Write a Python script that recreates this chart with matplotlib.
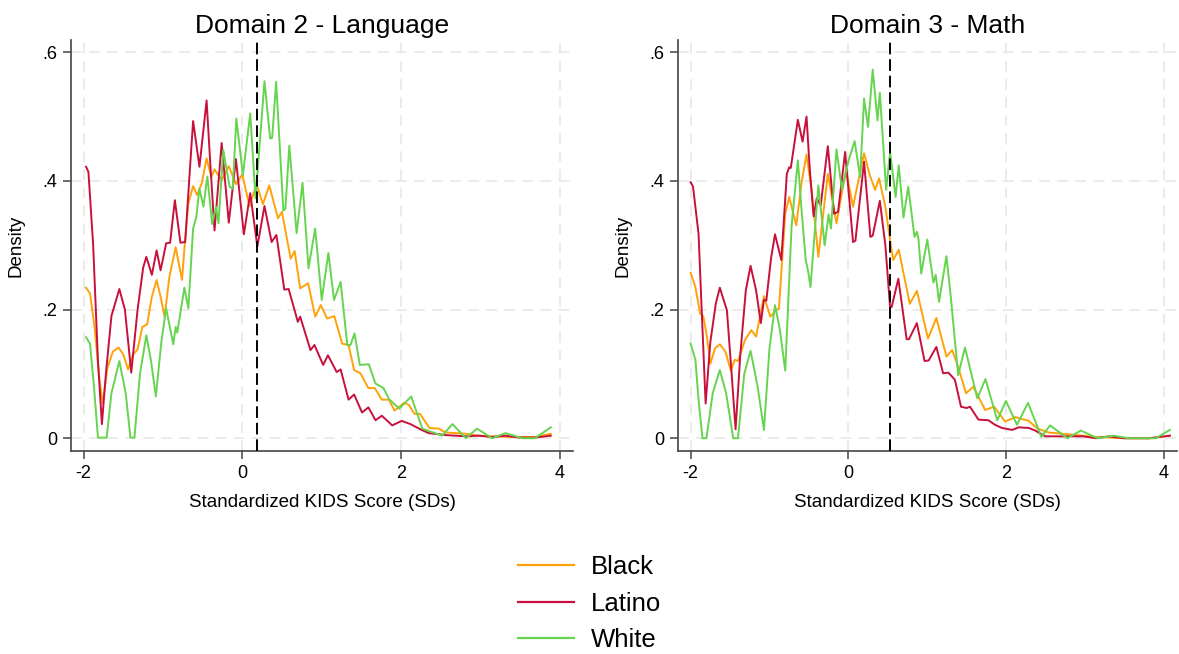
import matplotlib
matplotlib.use("Agg")
import matplotlib.pyplot as plt
from matplotlib.lines import Line2D
import numpy as np

plt.rcParams['font.family'] = ['Liberation Sans', 'DejaVu Sans']
plt.rcParams['axes.unicode_minus'] = False

groups = ['Black', 'Latino', 'White']
colors = {'Black': '#FFA20A', 'Latino': '#C8103C', 'White': '#66D44F'}

titles = ['Domain 2 - Language', 'Domain 3 - Math']
cutoffs = [0.19, 0.53]

# Domain 2 - Language, (score, density)
lang_black = [(-1.97, 0.234), (-1.92, 0.225), (-1.86, 0.17), (-1.80, 0.09), (-1.76, 0.054), (-1.70, 0.11),
              (-1.63, 0.135), (-1.56, 0.141), (-1.50, 0.13), (-1.44, 0.107), (-1.38, 0.13), (-1.32, 0.138),
              (-1.26, 0.173), (-1.20, 0.177), (-1.14, 0.22), (-1.08, 0.246), (-1.03, 0.22), (-0.98, 0.189),
              (-0.92, 0.25), (-0.84, 0.297), (-0.76, 0.246), (-0.72, 0.31), (-0.68, 0.365), (-0.62, 0.392),
              (-0.57, 0.378), (-0.51, 0.397), (-0.45, 0.435), (-0.39, 0.406), (-0.35, 0.418), (-0.26, 0.401),
              (-0.17, 0.423), (-0.08, 0.395), (0.00, 0.410), (0.09, 0.361), (0.18, 0.395), (0.26, 0.364),
              (0.34, 0.393), (0.45, 0.342), (0.50, 0.352), (0.61, 0.279), (0.66, 0.291), (0.73, 0.233),
              (0.83, 0.241), (0.92, 0.189), (0.99, 0.207), (1.07, 0.186), (1.16, 0.190), (1.26, 0.147),
              (1.34, 0.145), (1.41, 0.106), (1.49, 0.101), (1.59, 0.078), (1.67, 0.078), (1.76, 0.060),
              (1.85, 0.060), (1.92, 0.043), (2.04, 0.055), (2.10, 0.052), (2.17, 0.038), (2.24, 0.038),
              (2.36, 0.016), (2.48, 0.015), (2.56, 0.009), (2.82, 0.007), (2.98, 0.004), (3.15, 0.003),
              (3.40, 0.002), (3.69, 0.002), (3.89, 0.007)]
lang_latino = [(-1.97, 0.422), (-1.94, 0.414), (-1.88, 0.30), (-1.82, 0.12), (-1.77, 0.022), (-1.72, 0.10),
               (-1.65, 0.19), (-1.55, 0.232), (-1.48, 0.20), (-1.40, 0.102), (-1.32, 0.20), (-1.25, 0.265),
               (-1.21, 0.282), (-1.14, 0.254), (-1.08, 0.292), (-1.03, 0.261), (-0.96, 0.303), (-0.91, 0.304),
               (-0.85, 0.370), (-0.78, 0.304), (-0.72, 0.305), (-0.67, 0.40), (-0.62, 0.493), (-0.54, 0.422),
               (-0.45, 0.525), (-0.40, 0.42), (-0.35, 0.323), (-0.26, 0.459), (-0.17, 0.335), (-0.08, 0.434),
               (0.02, 0.317), (0.10, 0.381), (0.19, 0.298), (0.28, 0.361), (0.37, 0.305), (0.43, 0.316),
               (0.53, 0.231), (0.585, 0.232), (0.70, 0.181), (0.73, 0.189), (0.86, 0.137), (0.91, 0.145),
               (1.02, 0.114), (1.08, 0.129), (1.19, 0.103), (1.24, 0.107), (1.34, 0.060), (1.41, 0.068),
               (1.51, 0.040), (1.59, 0.048), (1.68, 0.028), (1.76, 0.035), (1.89, 0.020), (2.01, 0.027),
               (2.12, 0.022), (2.26, 0.013), (2.35, 0.008), (2.56, 0.005), (2.82, 0.003), (2.98, 0.004),
               (3.15, 0.002), (3.32, 0.004), (3.49, 0.001), (3.69, 0.001), (3.89, 0.004)]
lang_white = [(-1.97, 0.157), (-1.92, 0.147), (-1.87, 0.08), (-1.82, 0.001), (-1.71, 0.001), (-1.65, 0.07),
              (-1.55, 0.120), (-1.47, 0.07), (-1.41, 0.001), (-1.36, 0.001), (-1.29, 0.10), (-1.21, 0.160),
              (-1.15, 0.12), (-1.09, 0.065), (-1.02, 0.15), (-0.96, 0.202), (-0.87, 0.146), (-0.84, 0.173),
              (-0.82, 0.164), (-0.73, 0.234), (-0.68, 0.202), (-0.62, 0.326), (-0.58, 0.344), (-0.54, 0.388),
              (-0.49, 0.360), (-0.44, 0.407), (-0.38, 0.333), (-0.33, 0.360), (-0.30, 0.334), (-0.24, 0.448),
              (-0.16, 0.391), (-0.12, 0.388), (-0.075, 0.497), (0.008, 0.409), (0.10, 0.505), (0.167, 0.373),
              (0.28, 0.555), (0.351, 0.466), (0.377, 0.467), (0.427, 0.554), (0.518, 0.354), (0.544, 0.357),
              (0.593, 0.455), (0.685, 0.319), (0.760, 0.397), (0.835, 0.264), (0.919, 0.326), (1.002, 0.215),
              (1.086, 0.288), (1.157, 0.215), (1.240, 0.243), (1.324, 0.145), (1.365, 0.145), (1.415, 0.163),
              (1.482, 0.114), (1.595, 0.115), (1.68, 0.085), (1.78, 0.078), (1.85, 0.061), (1.98, 0.046),
              (2.13, 0.065), (2.27, 0.015), (2.52, 0.004), (2.65, 0.022), (2.82, 0.0), (2.96, 0.015),
              (3.15, 0.0), (3.32, 0.008), (3.53, 0.0), (3.69, 0.0), (3.89, 0.017)]

# Domain 3 - Math
math_black = [(-2.00, 0.257), (-1.94, 0.235), (-1.88, 0.194), (-1.84, 0.19), (-1.80, 0.163), (-1.75, 0.116),
              (-1.69, 0.14), (-1.63, 0.146), (-1.56, 0.135), (-1.49, 0.105), (-1.44, 0.122), (-1.40, 0.12),
              (-1.31, 0.153), (-1.23, 0.168), (-1.17, 0.158), (-1.07, 0.221), (-0.99, 0.189), (-0.91, 0.200),
              (-0.88, 0.201), (-0.80, 0.349), (-0.75, 0.375), (-0.66, 0.331), (-0.59, 0.40), (-0.53, 0.441),
              (-0.46, 0.38), (-0.38, 0.282), (-0.26, 0.411), (-0.15, 0.334), (-0.03, 0.417), (0.06, 0.360),
              (0.20, 0.443), (0.27, 0.41), (0.34, 0.386), (0.39, 0.404), (0.47, 0.36), (0.53, 0.308),
              (0.57, 0.277), (0.64, 0.293), (0.78, 0.209), (0.87, 0.229), (1.011, 0.155), (1.117, 0.187),
              (1.245, 0.127), (1.318, 0.137), (1.394, 0.111), (1.493, 0.070), (1.586, 0.080), (1.736, 0.044),
              (1.85, 0.049), (1.99, 0.026), (2.12, 0.033), (2.20, 0.03), (2.29, 0.027), (2.40, 0.015),
              (2.54, 0.009), (2.80, 0.006), (2.98, 0.004), (3.14, 0.002), (3.50, 0.0), (3.82, 0.0), (4.08, 0.004)]
math_latino = [(-2.00, 0.398), (-1.97, 0.391), (-1.90, 0.318), (-1.85, 0.17), (-1.81, 0.054), (-1.75, 0.15),
               (-1.68, 0.21), (-1.63, 0.234), (-1.54, 0.199), (-1.48, 0.10), (-1.43, 0.014), (-1.37, 0.13),
               (-1.30, 0.23), (-1.24, 0.268), (-1.17, 0.23), (-1.11, 0.179), (-1.07, 0.215), (-1.04, 0.214),
               (-0.98, 0.28), (-0.93, 0.317), (-0.85, 0.277), (-0.78, 0.411), (-0.75, 0.421), (-0.73, 0.42),
               (-0.64, 0.495), (-0.58, 0.461), (-0.53, 0.500), (-0.49, 0.42), (-0.44, 0.345), (-0.40, 0.373),
               (-0.35, 0.362), (-0.26, 0.454), (-0.18, 0.349), (-0.13, 0.352), (-0.04, 0.445), (0.06, 0.305),
               (0.09, 0.307), (0.20, 0.430), (0.28, 0.313), (0.31, 0.315), (0.40, 0.369), (0.47, 0.30),
               (0.53, 0.204), (0.55, 0.204), (0.635, 0.248), (0.74, 0.154), (0.77, 0.154), (0.87, 0.179),
               (0.968, 0.120), (1.02, 0.121), (1.117, 0.142), (1.203, 0.101), (1.27, 0.102), (1.352, 0.091),
               (1.43, 0.049), (1.50, 0.047), (1.544, 0.049), (1.650, 0.029), (1.778, 0.028), (1.86, 0.021),
               (1.95, 0.016), (2.08, 0.013), (2.16, 0.017), (2.29, 0.016), (2.37, 0.012), (2.50, 0.003),
               (2.80, 0.003), (2.98, 0.003), (3.14, 0.0), (3.31, 0.003), (3.50, 0.0), (3.82, 0.0), (4.08, 0.004)]
math_white = [(-2.00, 0.147), (-1.94, 0.122), (-1.90, 0.06), (-1.85, 0.0), (-1.80, 0.0), (-1.72, 0.07),
              (-1.63, 0.106), (-1.55, 0.07), (-1.46, 0.0), (-1.40, 0.0), (-1.32, 0.10), (-1.24, 0.136),
              (-1.15, 0.08), (-1.07, 0.013), (-1.00, 0.14), (-0.93, 0.207), (-0.87, 0.17), (-0.80, 0.105),
              (-0.72, 0.329), (-0.64, 0.432), (-0.59, 0.35), (-0.54, 0.277), (-0.51, 0.26), (-0.48, 0.235),
              (-0.38, 0.393), (-0.30, 0.300), (-0.25, 0.348), (-0.22, 0.326), (-0.15, 0.449), (-0.08, 0.386),
              (0.00, 0.43), (0.08, 0.462), (0.15, 0.406), (0.20, 0.528), (0.25, 0.484), (0.31, 0.573),
              (0.37, 0.494), (0.40, 0.537), (0.48, 0.386), (0.53, 0.445), (0.60, 0.375), (0.64, 0.424),
              (0.70, 0.343), (0.76, 0.391), (0.84, 0.313), (0.87, 0.321), (0.89, 0.31), (0.925, 0.256),
              (1.002, 0.309), (1.079, 0.242), (1.109, 0.254), (1.151, 0.212), (1.245, 0.283), (1.30, 0.22),
              (1.394, 0.098), (1.480, 0.141), (1.637, 0.062), (1.74, 0.092), (1.89, 0.028), (2.00, 0.058),
              (2.14, 0.021), (2.28, 0.055), (2.45, 0.002), (2.56, 0.020), (2.78, 0.0), (2.95, 0.012),
              (3.16, 0.0), (3.37, 0.004), (3.56, 0.0), (3.90, 0.0), (4.08, 0.013)]

panels = [
    {'Black': lang_black, 'Latino': lang_latino, 'White': lang_white},
    {'Black': math_black, 'Latino': math_latino, 'White': math_white},
]

xticks = [-2, 0, 2, 4]
yticks = [0, 0.2, 0.4, 0.6]
ytick_labels = ['0', '.2', '.4', '.6']

fig = plt.figure(figsize=(11.79, 6.54), dpi=100)
ax_l = fig.add_axes([0.0602, 0.3104, 0.4258, 0.6284])
ax_r = fig.add_axes([0.5751, 0.3104, 0.4232, 0.6284])

for ax, data, title, cut in zip([ax_l, ax_r], panels, titles, cutoffs):
    for g in groups:
        pts = np.array(data[g])
        ax.plot(pts[:, 0], pts[:, 1], color=colors[g], lw=1.4, zorder=3,
                solid_joinstyle='round')
    ax.axvline(cut, color='black', lw=1.4, linestyle=(0, (6, 2.5)), zorder=4)

    ax.set_xlim(-2.16, 4.17)
    ax.set_ylim(-0.0198, 0.619)
    ax.set_xticks(xticks)
    ax.set_yticks(yticks)
    ax.set_yticklabels(ytick_labels)
    ax.grid(True, color='#e9e9e9', lw=1.3, linestyle=(0, (6, 4)), zorder=0)
    ax.set_axisbelow(True)
    for s in ['top', 'right']:
        ax.spines[s].set_visible(False)
    for s in ['left', 'bottom']:
        ax.spines[s].set_color('#444444')
        ax.spines[s].set_linewidth(1.2)
    ax.tick_params(direction='out', length=6, width=1.1, color='#444444', labelsize=13, pad=4)
    ax.set_title(title, fontsize=19, pad=5)
    ax.set_xlabel('Standardized KIDS Score (SDs)', fontsize=13.5, labelpad=9)
    ax.set_ylabel('Density', fontsize=13.5, labelpad=13)

handles = [Line2D([], [], color=colors[g], lw=1.6) for g in groups]
fig.legend(handles, groups, loc='center', bbox_to_anchor=(0.5, 0.077), frameon=False,
           fontsize=18.5, handlelength=2.2, handletextpad=0.65, labelspacing=0.48)

fig.savefig('out.png', dpi=100)
